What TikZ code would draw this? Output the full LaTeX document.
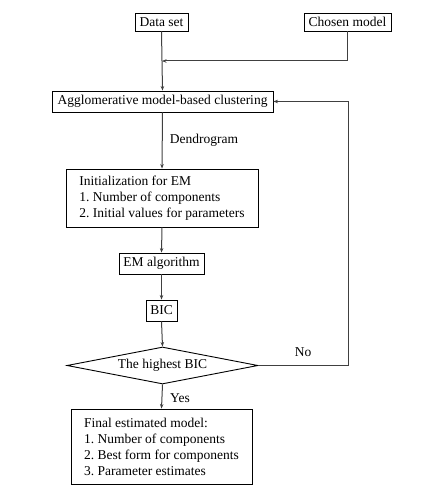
\documentclass[tikz,border=0pt]{standalone}
\usepackage{fontspec}
\setmainfont{Liberation Serif}
\usetikzlibrary{shapes.geometric,arrows.meta}
\begin{document}
\frenchspacing
\begin{tikzpicture}[x=1pt,y=-1pt,
  every node/.style={font=\fontsize{13.5}{16}\selectfont},
  box/.style={draw,line width=0.9pt,inner sep=0pt,minimum height=21pt,anchor=center},
  listbox/.style={draw,line width=0.9pt,inner sep=0pt,align=left,anchor=center},
  conn/.style={line width=1pt,draw=black!75,-{Stealth[length=4.5pt,width=3.5pt]}},
  lbl/.style={inner sep=0pt,anchor=center}]
\useasboundingbox (0,0) rectangle (433,502);
\node[box,minimum width=53pt,minimum height=18pt] (data) at (161.5,22) {Data set};
\node[box,minimum width=87pt,minimum height=18pt] (chosen) at (347.5,22) {Chosen model};
\node[box,minimum width=221pt] (agg) at (162.5,101.5) {Agglomerative model-based clustering};
\node[listbox,minimum width=192pt,minimum height=58pt] (init) at (162,198) {Initialization for EM\\1. Number of components\\2. Initial values for parameters};
\node[box,minimum width=85pt] (em) at (161.5,263.5) {EM algorithm};
\node[box,minimum width=31pt] (bic) at (161.5,310.5) {BIC};
\node[draw,line width=0.9pt,diamond,inner sep=0pt,minimum width=191pt,minimum height=37pt,shape aspect=5.16] (dec) at (162.5,365.5) {The highest BIC};
\node[listbox,minimum width=181pt,minimum height=75pt] (final) at (161.5,446.5) {Final estimated model:\\1. Number of components\\2. Best form for components\\3. Parameter estimates};
\coordinate (j) at (162,61);
\coordinate (r1) at (348,365.5);
\coordinate (r2) at (348,101.5);
\draw[conn] (data.south) -- (agg.north);
\draw[conn] (chosen.south) |- (j);
\draw[conn] (agg.south) -- (init.north);
\node[lbl] (dendro) at (204,140) {Dendrogram};
\draw[conn] (init.south) -- (em.north);
\draw[conn] (em.south) -- (bic.north);
\draw[conn] (bic.south) -- (dec.north);
\draw[conn] (dec.east) -- (r1) -- (r2) -- (agg.east);
\node[lbl] (no) at (303,352) {No};
\draw[conn] (dec.south) -- (final.north);
\node[lbl] (yes) at (180,398) {Yes};
\end{tikzpicture}
\end{document}
